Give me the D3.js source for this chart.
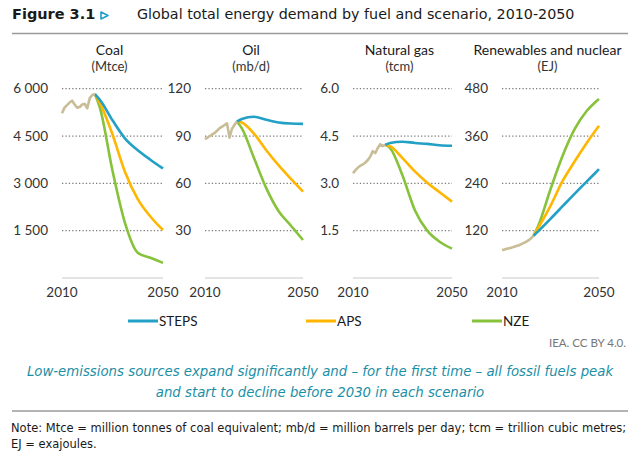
<!DOCTYPE html>
<html><head><meta charset="utf-8">
<script src="https://cdn.jsdelivr.net/npm/d3@7/dist/d3.min.js"></script>
<style>body{margin:0;background:#fff}svg{display:block}</style>
</head><body>
<svg id="c" width="640" height="457"></svg>
<script>
// ---- data ----
const histYears = [2010,2011,2012,2013,2014,2015,2016,2017,2018,2019,2020,2021,2022,2023];
const scenYears = [2023,2025,2030,2035,2040,2045,2050];
const scenarios = ["STEPS","APS","NZE"];

const fuels = ["Coal","Oil","Natural gas","Renewables and nuclear"];
const units = ["(Mtce)","(mb/d)","(tcm)","(EJ)"];

const coalTicks = [1500,3000,4500,6000];
const oilTicks = [30,60,90,120];
const gasTicks = [1.5,3.0,4.5,6.0];
const renewTicks = [120,240,360,480];

const coalHist = [5220,5400,5480,5560,5620,5500,5400,5420,5500,5520,5380,5700,5800,5830];
const coalSTEPS = [5830,5650,5000,4420,4050,3750,3470];
const coalAPS = [5830,5550,4550,3350,2500,1950,1520];
const coalNZE = [5830,5400,3400,1730,800,640,480];

const oilHist = [88,89,90,91,92,93.5,95,96,97,98,89,94.5,97,99.2];
const oilSTEPS = [99.2,100.8,102.2,100.3,98.6,97.9,97.7];
const oilAPS = [99.2,98.6,91.5,81,71.5,63,54.7];
const oilNZE = [99.2,95,76,57,42.5,33.3,24.1];

const gasHist = [3.32,3.42,3.5,3.56,3.6,3.66,3.74,3.85,4.02,3.96,4.12,4.24,4.18,4.22];
const gasSTEPS = [4.22,4.28,4.32,4.28,4.25,4.21,4.19];
const gasAPS = [4.22,4.18,3.8,3.38,3.02,2.72,2.42];
const gasNZE = [4.22,4.12,3.25,2.15,1.5,1.15,0.93];

const renewHist = [71,72,74,75.5,77,79,81,83,86,89,92,96,101,107];
const renewSTEPS = [107,119,150,182,214,245,276];
const renewAPS = [107,128,183,246,296,343,386];
const renewNZE = [107,133,225,310,378,424,454];

const xTickYears = [2010,2050];
const legendLabels = ["STEPS","APS","NZE"];

// ---- styles / layout ----
const colors = {STEPS:"#22a0c6", APS:"#ffb600", NZE:"#86c23a", hist:"#c8bd96"};
const FONT = "Lato, 'Open Sans', sans-serif";
const WIDE = "'DejaVu Sans', sans-serif";
const panels = [
  {x0:62, x1:163, max:6000, ticks:coalTicks, fmt:d=>d3.format(",")(d).replace(/,/g," "), hist:coalHist, s:[coalSTEPS,coalAPS,coalNZE]},
  {x0:205, x1:303, max:120, ticks:oilTicks, fmt:d=>String(d), hist:oilHist, s:[oilSTEPS,oilAPS,oilNZE]},
  {x0:353, x1:452, max:6, ticks:gasTicks, fmt:d=>d.toFixed(1), hist:gasHist, s:[gasSTEPS,gasAPS,gasNZE]},
  {x0:502, x1:599, max:480, ticks:renewTicks, fmt:d=>String(d), hist:renewHist, s:[renewSTEPS,renewAPS,renewNZE]}
];
const yTop = 88.7, yBase = 278;

const svg = d3.select("#c").style("font-family", FONT);

// header
svg.append("text").attr("x",12).attr("y",19).attr("font-size",14.5).attr("font-weight","bold")
  .attr("font-family",WIDE).attr("fill","#1a1a1a").text("Figure 3.1");
svg.append("path").attr("d","M101,12 L108,15.5 L101,19 Z").attr("fill","none")
  .attr("stroke","#1f9fcb").attr("stroke-width",1.6).attr("stroke-linejoin","round");
svg.append("text").attr("x",137).attr("y",19).attr("font-size",14.3).attr("fill","#1a1a1a")
  .attr("font-family",WIDE).text("Global total energy demand by fuel and scenario, 2010-2050");
svg.append("line").attr("x1",12).attr("x2",628).attr("y1",33.5).attr("y2",33.5)
  .attr("stroke","#9a9a9a").attr("stroke-width",1.5);

panels.forEach((p,i)=>{
  const x = d3.scaleLinear().domain([2010,2050]).range([p.x0,p.x1]);
  const y = d3.scaleLinear().domain([0,p.max]).range([yBase,yTop]);
  const g = svg.append("g");
  const cx = (p.x0+p.x1)/2 - 3;
  g.append("text").attr("x",cx).attr("y",55).attr("text-anchor","middle").attr("font-size",14)
    .attr("fill","#1a1a1a").text(fuels[i]);
  g.append("text").attr("x",cx).attr("y",71).attr("text-anchor","middle").attr("font-size",13)
    .attr("fill","#333").text(units[i]);
  // gridlines
  g.selectAll(".grid").data(p.ticks).join("line")
    .attr("x1",p.x0).attr("x2",p.x1).attr("y1",d=>y(d)).attr("y2",d=>y(d))
    .attr("stroke","#7d7d7d").attr("stroke-width",1.3).attr("stroke-dasharray","1.3,2.1");
  g.selectAll(".yl").data(p.ticks).join("text")
    .attr("x",p.x0-14).attr("y",d=>y(d)+4.5).attr("text-anchor","end").attr("font-size",13.5)
    .attr("fill","#333").text(p.fmt);
  // baseline
  g.append("line").attr("x1",p.x0).attr("x2",p.x1).attr("y1",yBase).attr("y2",yBase)
    .attr("stroke","#c8c8c8").attr("stroke-width",1);
  g.selectAll(".xl").data(xTickYears).join("text")
    .attr("x",d=>x(d)).attr("y",297).attr("text-anchor","middle").attr("font-size",13.5)
    .attr("fill","#333").text(d=>d);
  // scenario lines
  const line = d3.line().x(d=>x(d[0])).y(d=>y(d[1])).curve(d3.curveMonotoneX);
  [2,1,0].forEach(k=>{
    g.append("path").datum(scenYears.map((yr,j)=>[yr,p.s[k][j]]))
      .attr("d",line).attr("fill","none").attr("stroke",colors[scenarios[k]])
      .attr("stroke-width",2.6).attr("stroke-linejoin","round");
  });
  const hl = d3.line().x(d=>x(d[0])).y(d=>y(d[1]));
  g.append("path").datum(histYears.map((yr,j)=>[yr,p.hist[j]]))
    .attr("d",hl).attr("fill","none").attr("stroke",colors.hist).attr("stroke-width",2.6)
    .attr("stroke-linejoin","round");
});

// legend
const legX = [128,306,472];
legendLabels.forEach((l,i)=>{
  svg.append("line").attr("x1",legX[i]).attr("x2",legX[i]+30).attr("y1",321).attr("y2",321)
    .attr("stroke",colors[l]).attr("stroke-width",3);
  svg.append("text").attr("x",legX[i]+31).attr("y",325.5).attr("font-size",13.5).attr("fill","#1a1a1a").text(l);
});

svg.append("text").attr("x",626).attr("y",347).attr("text-anchor","end").attr("font-size",11.5)
  .attr("fill","#777").text("IEA. CC BY 4.0.");

svg.append("text").attr("x",320).attr("y",376).attr("text-anchor","middle").attr("font-size",13.3)
  .attr("font-family",WIDE).attr("font-style","italic").attr("fill","#1b8fa6")
  .text("Low-emissions sources expand significantly and \u2013 for the first time \u2013 all fossil fuels peak");
svg.append("text").attr("x",320).attr("y",396.5).attr("text-anchor","middle").attr("font-size",13.3)
  .attr("font-family",WIDE).attr("font-style","italic").attr("fill","#1b8fa6")
  .text("and start to decline before 2030 in each scenario");

svg.append("line").attr("x1",12).attr("x2",628).attr("y1",411).attr("y2",411)
  .attr("stroke","#9a9a9a").attr("stroke-width",1.5);
svg.append("text").attr("x",11).attr("y",432).attr("font-size",11.5).attr("fill","#1a1a1a")
  .attr("font-family",WIDE)
  .text("Note: Mtce = million tonnes of coal equivalent; mb/d = million barrels per day; tcm = trillion cubic metres;");
svg.append("text").attr("x",11).attr("y",448).attr("font-size",11.5).attr("fill","#1a1a1a")
  .attr("font-family",WIDE).text("EJ = exajoules.");
</script>
</body></html>
